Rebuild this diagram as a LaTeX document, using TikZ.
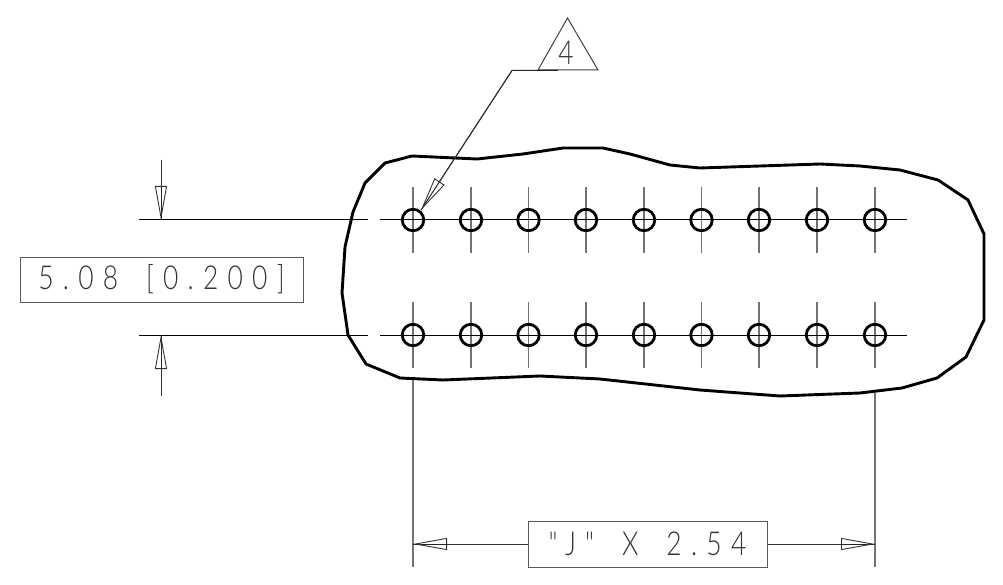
\documentclass[tikz,border=0pt]{standalone}
\usepackage{fontspec}
\newfontfamily\cadfont[FakeStretch=0.8,LetterSpace=28,WordSpace=1.7]{Lato Light}
\usetikzlibrary{arrows.meta,shapes.geometric}
\tikzset{
  >=latex,
  {outline/.style} ={draw,line width=2.9pt,line join=round},
  {hole/.style} ={circle,draw,line width=2.8pt,inner sep=0,minimum size=21.5pt},
  {center line/.style} ={draw,line width=1.5pt,black!55},
  {ext line/.style} ={draw,line width=1pt},
  {dim box/.style} ={rectangle,draw=black!65,line width=1pt,inner sep=0,font=\cadfont\fontsize{33}{33}\selectfont,text=black!80},
  {dim tip/.style} ={draw=black!80,line width=.9pt,-{Triangle[open,length=34pt,width=12pt]}},
  {dim shaft/.style} ={draw=black!85,line width=1pt},
}
\begin{document}
\begin{tikzpicture}[x=1pt,y=-1pt]
    \useasboundingbox (0,0) rectangle (1003,585);
    % board edge
    \draw[outline] (412,156) -- (477,159) -- (523,154) -- (563,148) -- (603,148)
      -- (630,154) -- (670,165) -- (700,168) -- (760,166) -- (820,164) -- (860,166)
      -- (900,170) -- (938,180) -- (968,200) -- (984,234) -- (984,320) -- (966,357)
      -- (937,378) -- (902,388) -- (860,393) -- (780,396) -- (700,390) -- (600,379)
      -- (540,376) -- (443,380) -- (400,378) -- (366,364) -- (348,335) -- (342,293)
      -- (345,247) -- (353,212) -- (365,183) -- (385,163) -- cycle;
    % pin rows
    \foreach \px [count=\i] in {413,471,528.5,586,644,701.5,759,817,875}{
      \draw[center line] (\px,187) -- (\px,253);
      \draw[center line] (\px,302) -- (\px,368);
      \node[hole] (top\i) at (\px,220) {};
      \node[hole] (bot\i) at (\px,335) {};
    }
    \coordinate (topend) at (907,220);
    \coordinate (botend) at (907,335);
    \coordinate (topgap) at (380,220);
    \coordinate (botgap) at (380,335);
    \draw[ext line] (topgap) -- (topend);
    \draw[ext line] (botgap) -- (botend);
    % 5.08 dimension
    \coordinate (topext) at (139,220);
    \coordinate (botext) at (139,335);
    \coordinate (topstop) at (368,220);
    \coordinate (botstop) at (368,335);
    \draw[ext line] (topext) -- (topstop);
    \draw[ext line] (botext) -- (botstop);
    \coordinate (toptail) at (161,160);
    \coordinate (toptip) at (161,220);
    \coordinate (bottail) at (161,396);
    \coordinate (bottip) at (161,335);
    \draw[dim shaft] (toptail) -- (toptip);
    \draw[dim shaft] (bottail) -- (bottip);
    \draw[dim tip] (toptail) -- (toptip);
    \draw[dim tip] (bottail) -- (bottip);
    \node[dim box,minimum width=283pt,minimum height=45pt] (rowbox) at (161.5,279.5) {5.08 [0.200]};
    % pitch dimension
    \coordinate (leftext) at (413,380);
    \coordinate (leftend) at (413,567);
    \coordinate (rightext) at (875,393);
    \coordinate (rightend) at (875,567);
    \draw[center line] (leftext) -- (leftend);
    \draw[center line] (rightext) -- (rightend);
    \node[dim box,minimum width=239pt,minimum height=46pt] (pitchbox) at (647.5,544) {"J" X 2.54};
    \coordinate (lefttip) at (413,544);
    \coordinate (righttip) at (875,544);
    \draw[dim shaft] (pitchbox.west) -- (lefttip);
    \draw[dim shaft] (pitchbox.east) -- (righttip);
    \draw[dim tip] (pitchbox.west) -- (lefttip);
    \draw[dim tip] (pitchbox.east) -- (righttip);
    % note flag
    \coordinate (noteapex) at (567.5,18);
    \coordinate (noteleft) at (538,70);
    \coordinate (noteright) at (598,70);
    \draw[draw=black!75,line width=1pt] (noteapex) -- (noteleft) -- (noteright) -- cycle;
    \node[font=\cadfont\fontsize{33}{33}\selectfont,text=black!80,inner sep=0] (notenum) at (566,53) {4};
    \coordinate (noteknee) at (512,70.5);
    \coordinate (noteend) at (558,70.5);
    \coordinate (notetip) at (421,210);
    \draw[dim shaft] (noteend) -- (noteknee) -- (notetip);
    \draw[dim tip] (noteknee) -- (notetip);
\end{tikzpicture}
\end{document}
